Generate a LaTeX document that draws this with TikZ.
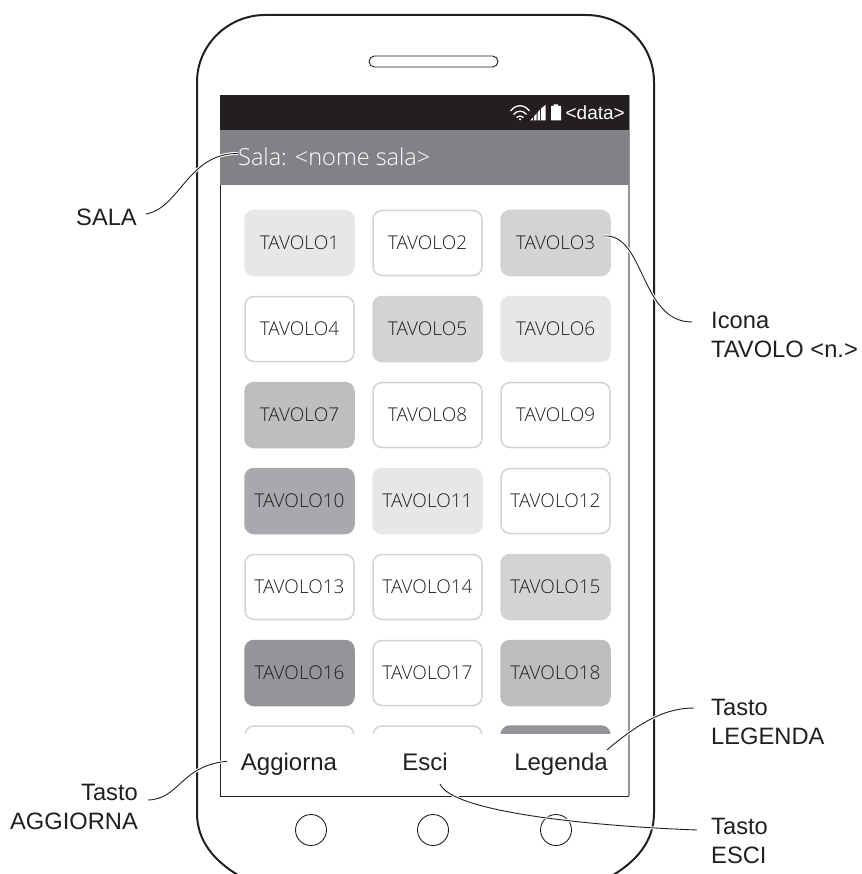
\documentclass[tikz,border=0pt]{standalone}
\usepackage{fontspec}
\setmainfont{Liberation Sans}
\newfontfamily\lightf[UprightFont=* Light]{Open Sans}
\usetikzlibrary{calc}
\definecolor{ink}{HTML}{231F20}
\definecolor{g1}{HTML}{E6E7E8}
\definecolor{g2}{HTML}{D1D3D4}
\definecolor{g3}{HTML}{BCBEC0}
\definecolor{g4}{HTML}{A7A9AC}
\definecolor{g5}{HTML}{939598}
\definecolor{bar}{HTML}{808285}
\tikzset{
  tile/.style={minimum width=109pt,minimum height=65pt,rounded corners=9pt,inner sep=0pt,text=ink,
     font=\lightf\fontsize{19}{22}\selectfont},
  ftile/.style={tile,fill=#1,draw=#1,line width=1.5pt},
  wtile/.style={tile,fill=white,draw=g2,line width=1.5pt},
  btn/.style={inner sep=0pt,text=ink,anchor=base,font=\fontsize{24}{28}\selectfont},
  lab/.style={inner sep=0pt,text=ink,font=\fontsize{23.7}{29}\selectfont},
  halo/.style={draw=white,line width=3pt},
  lead/.style={draw=ink,line width=0.9pt},
  homeb/.style={draw=ink,line width=0.9pt,circle,minimum size=31pt,inner sep=0pt},
}
\newcommand{\leader}[1]{\draw[halo] #1; \draw[lead] #1;}
\begin{document}
\begin{tikzpicture}[x=1pt,y=-1pt]
\useasboundingbox (0,0) rectangle (861,874);
\begin{scope}
\clip (0,0) rectangle (861,874);
% phone
\draw[ink,line width=2pt] (197,82) .. controls (197,45) and (228,15) .. (265,15) -- (586,15)
  .. controls (624,15) and (654,45) .. (654,82) -- (654,813)
  .. controls (654,840) and (638,862) .. (606,879) -- (245,879)
  .. controls (213,862) and (197,840) .. (197,813) -- cycle;
\end{scope}
\draw[ink,line width=0.9pt,rounded corners=5.5pt] (369,56) rectangle (498,67);
% screen
\fill[white] (220,95) rectangle (629,796);
\draw[ink,line width=0.9pt] (629,796) -- (220,796) -- (220,95);
\draw[g5,line width=1.2pt] (629,95) -- (629,796);
\fill[ink] (220,95) rectangle (628.5,130);
\fill[bar] (220,130) rectangle (628.5,185);
% status icons
\begin{scope}[draw=white,fill=white,line width=1.3pt]
\draw (510.5,111) .. controls (516,104) and (524,104) .. (529.5,111);
\draw (513.5,114.5) .. controls (517,110) and (523,110) .. (526.5,114.5);
\draw (516.5,117.5) .. controls (518.5,115.5) and (521.5,115.5) .. (523.5,117.5);
\fill (520,119.3) circle (1.2);
\fill (530,120.5) -- (533,120.5) -- (533,117.5) -- cycle;
\fill (534,120.5) -- (536.5,120.5) -- (536.5,113.5) -- (534,116.5) -- cycle;
\fill (537.5,120.5) -- (540,120.5) -- (540,109.5) -- (537.5,112.5) -- cycle;
\fill (541,120.5) -- (545.5,120.5) -- (545.5,105) -- (541,108.5) -- cycle;
\fill (551,106) -- (553.5,106) -- (553.5,104.5) -- (558,104.5) -- (558,106) -- (561,106) -- (561,120.5) -- (551,120.5) -- cycle;
\end{scope}
\node[inner sep=0pt,anchor=base east,text=white,font=\fontsize{19}{22}\selectfont] (datan) at (625,119.5) {<data>};
\node[inner sep=0pt,anchor=base west,text=white,font=\lightf\fontsize{23.5}{26}\selectfont] (sala) at (238,166) {Sala: <nome sala>};
% tiles
\begin{scope}
\clip (221,186) rectangle (628,733);
\node[ftile=g1] (t1) at (299.5,243) {TAVOLO1};
\node[wtile] (t2) at (427.5,243) {TAVOLO2};
\node[ftile=g2] (t3) at (555.5,243) {TAVOLO3};
\node[wtile] (t4) at (299.5,329) {TAVOLO4};
\node[ftile=g2] (t5) at (427.5,329) {TAVOLO5};
\node[ftile=g1] (t6) at (555.5,329) {TAVOLO6};
\node[ftile=g3] (t7) at (299.5,415) {TAVOLO7};
\node[wtile] (t8) at (427.5,415) {TAVOLO8};
\node[wtile] (t9) at (555.5,415) {TAVOLO9};
\node[ftile=g4] (t10) at (299.5,501) {TAVOLO10};
\node[ftile=g1] (t11) at (427.5,501) {TAVOLO11};
\node[wtile] (t12) at (555.5,501) {TAVOLO12};
\node[wtile] (t13) at (299.5,587) {TAVOLO13};
\node[wtile] (t14) at (427.5,587) {TAVOLO14};
\node[ftile=g2] (t15) at (555.5,587) {TAVOLO15};
\node[ftile=g5] (t16) at (299.5,673) {TAVOLO16};
\node[wtile] (t17) at (427.5,673) {TAVOLO17};
\node[ftile=g3] (t18) at (555.5,673) {TAVOLO18};
\node[wtile] (t19) at (299.5,758.5) {};
\node[wtile] (t20) at (427.5,758.5) {};
\node[ftile=g5] (t21) at (555.5,758.5) {};
\end{scope}
% buttons
\node[btn] (aggiorna) at (289,770.5) {Aggiorna};
\node[btn] (esci) at (425,770.5) {Esci};
\node[btn] (legenda) at (561,770.5) {Legenda};
\node[homeb] (c1) at (311,830) {};
\node[homeb] (c2) at (433,830) {};
\node[homeb] (c3) at (556,830) {};
% labels
\node[lab,anchor=east] (lsala) at (137,217) {SALA};
\node[lab,anchor=west,align=left] (licona) at (711,335) {Icona\\TAVOLO <n.>};
\node[lab,anchor=west,align=left] (llegenda) at (711,721.5) {Tasto\\LEGENDA};
\node[lab,anchor=west,align=left] (lesci) at (711,840.5) {Tasto\\ESCI};
\node[lab,anchor=east,align=right] (laggiorna) at (138,806.5) {Tasto\\AGGIORNA};
% leaders
\leader{($(lsala.east)+(9,-3)$) .. controls (180,208) and (188,153) .. ($(sala.base west)+(0,-12.5)$)}
\leader{($(t3.east)+(-7,-7)$) .. controls (645,233) and (640,322) .. (692,322)}
\leader{($(legenda.north east)+(-1,-3)$) .. controls (640,722) and (665,708) .. (694,708)}
\leader{($(esci.south)+(15,13)$) .. controls (452,812) and (590,826) .. (697,830)}
\leader{($(aggiorna.west)+(-14,-3)$) .. controls (180,766) and (180,799) .. (148,800)}
\end{tikzpicture}
\end{document}
